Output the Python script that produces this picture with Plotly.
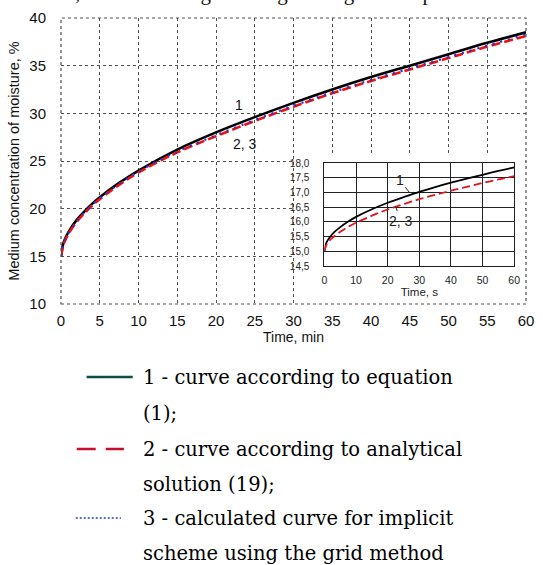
import plotly.graph_objects as go

# ---------------- data ----------------
t_min = [0, 0.25, 0.5, 1, 2, 3, 4, 5, 7.5, 10, 15, 20, 25, 30, 35, 40, 45, 50, 55, 60]
curve1_main = [15.0, 16.2, 16.8, 17.6, 18.8, 19.7, 20.5, 21.2, 22.7, 24.0, 26.2, 28.0, 29.6, 31.1, 32.5, 33.8, 35.0, 36.2, 37.4, 38.5]
curve2_main = [15.0, 16.0, 16.6, 17.4, 18.6, 19.5, 20.3, 21.0, 22.5, 23.8, 25.9, 27.6, 29.2, 30.7, 32.1, 33.4, 34.6, 35.8, 37.0, 38.1]
curve3_main = [15.0, 16.1, 16.7, 17.5, 18.7, 19.6, 20.4, 21.1, 22.6, 23.9, 26.0, 27.7, 29.3, 30.8, 32.2, 33.5, 34.7, 35.9, 37.1, 38.3]

t_sec = [0, 0.5, 1, 2, 3, 5, 7.5, 10, 15, 20, 25, 30, 35, 40, 45, 50, 55, 60]
curve1_inset = [15.0, 15.26, 15.37, 15.52, 15.64, 15.82, 16.01, 16.17, 16.43, 16.65, 16.84, 17.02, 17.18, 17.33, 17.47, 17.60, 17.73, 17.85]
curve2_inset = [15.0, 15.19, 15.28, 15.41, 15.50, 15.66, 15.83, 15.97, 16.21, 16.42, 16.60, 16.77, 16.92, 17.06, 17.19, 17.32, 17.44, 17.55]
curve3_inset = [15.0, 15.19, 15.28, 15.41, 15.50, 15.66, 15.83, 15.97, 16.21, 16.42, 16.60, 16.77, 16.92, 17.06, 17.19, 17.32, 17.44, 17.55]

main_x_ticks = [0, 5, 10, 15, 20, 25, 30, 35, 40, 45, 50, 55, 60]
main_y_ticks = [10, 15, 20, 25, 30, 35, 40]
inset_x_ticks = [0, 10, 20, 30, 40, 50, 60]
inset_y_ticks = [14.5, 15.0, 15.5, 16.0, 16.5, 17.0, 17.5, 18.0]
inset_y_labels = ["14,5", "15,0", "15,5", "16,0", "16,5", "17,0", "17,5", "18,0"]

legend_lines = [
    ["1 - curve according to equation", "(1);"],
    ["2 - curve according to analytical", "solution (19);"],
    ["3 - calculated curve for implicit", "scheme using the grid method"],
]

# ---------------- geometry helpers ----------------
W, H = 543, 565
L, R, T, B = 61, 534, 18, 304
PW, PH = R - L, B - T


def px(x):
    return (x - L) / PW


def py(y):
    return (B - y) / PH


SANS = "Liberation Sans, Arial, sans-serif"
SERIF = "DejaVu Serif, serif"
SERIF2 = "Liberation Serif, Times New Roman, serif"

fig = go.Figure()

# main curves
fig.add_trace(go.Scatter(x=t_min, y=curve1_main, mode="lines", line=dict(color="black", width=2.6, shape="spline"),
                         xaxis="x", yaxis="y", showlegend=False, hoverinfo="skip"))
fig.add_trace(go.Scatter(x=t_min, y=curve2_main, mode="lines", line=dict(color="#ee1111", width=2.6, dash="9px,4px", shape="spline"),
                         xaxis="x", yaxis="y", showlegend=False, hoverinfo="skip"))
fig.add_trace(go.Scatter(x=t_min, y=curve3_main, mode="lines", line=dict(color="#2233dd", width=2.2, dash="2px,6px", shape="spline"),
                         xaxis="x", yaxis="y", showlegend=False, hoverinfo="skip"))

# white box subplot (empty)
fig.add_trace(go.Scatter(x=[None], y=[None], mode="lines", xaxis="x2", yaxis="y2", showlegend=False, hoverinfo="skip"))

# inset curves
fig.add_trace(go.Scatter(x=t_sec, y=curve1_inset, mode="lines", line=dict(color="black", width=1.8, shape="spline"),
                         xaxis="x3", yaxis="y3", showlegend=False, hoverinfo="skip"))
fig.add_trace(go.Scatter(x=t_sec, y=curve2_inset, mode="lines", line=dict(color="#ee1111", width=1.8, dash="8px,4px", shape="spline"),
                         xaxis="x3", yaxis="y3", showlegend=False, hoverinfo="skip"))
fig.add_trace(go.Scatter(x=t_sec, y=curve3_inset, mode="lines", line=dict(color="#3344ee", width=1.2, dash="1px,11px", shape="spline"),
                         xaxis="x3", yaxis="y3", showlegend=False, hoverinfo="skip"))

grid_col = "#505050"

fig.update_layout(
    width=W, height=H,
    margin=dict(l=L, r=W - R, t=T, b=H - B, pad=0),
    paper_bgcolor="white", plot_bgcolor="white",
    xaxis=dict(domain=[0, 1], range=[0, 60], tickvals=main_x_ticks, showgrid=True, gridcolor=grid_col,
               griddash="dot", gridwidth=1.2, zeroline=False, showline=False, ticks="",
               ticklabelstandoff=6, tickfont=dict(family=SANS, size=15, color="#111"),
               title=dict(text="Time, min", font=dict(family=SANS, size=14, color="#111"), standoff=4),
               anchor="y"),
    yaxis=dict(domain=[0, 1], range=[10, 40], tickvals=main_y_ticks, showgrid=True, gridcolor=grid_col,
               griddash="dot", gridwidth=1.2, zeroline=False, showline=False, ticks="",
               ticklabelstandoff=14, tickfont=dict(family=SANS, size=15, color="#111"),
               title=dict(text="Medium concentration of moisture, %", font=dict(family=SANS, size=14.5, color="#111"),
                          standoff=6),
               anchor="x"),
    xaxis2=dict(domain=[px(298), px(533)], range=[0, 1], visible=False, anchor="y2"),
    yaxis2=dict(domain=[py(303), py(155)], range=[0, 1], visible=False, anchor="x2"),
    xaxis3=dict(domain=[px(329), px(522)], range=[0, 60], tickvals=inset_x_ticks, showgrid=True,
                gridcolor="#222", gridwidth=1.3, zeroline=False, showline=True, linecolor="#222", linewidth=1.3,
                mirror=True, ticks="", ticklabelstandoff=4, tickfont=dict(family=SANS, size=10.5, color="#222"),
                title=dict(text="Time, s", font=dict(family=SANS, size=11.5, color="#222"), standoff=2),
                anchor="y3"),
    yaxis3=dict(domain=[py(266), py(163)], range=[14.5, 18.0], tickvals=inset_y_ticks, ticktext=inset_y_labels,
                showgrid=True, gridcolor="#222", gridwidth=1.3, zeroline=False, showline=True, linecolor="#222",
                linewidth=1.3, mirror=True, ticks="", ticklabelstandoff=12,
                tickfont=dict(family=SANS, size=10, color="#222"), anchor="x3"),
)

shapes = [
    # white box behind the inset (drawn in the x2y2 subplot, above main grid)
    dict(type="rect", xref="x2", yref="y2", x0=0, x1=1, y0=0, y1=1, fillcolor="white",
         line=dict(width=0), layer="below"),
    # dotted frame of the main plot
    dict(type="rect", xref="paper", yref="paper", x0=0, x1=1, y0=0, y1=1,
         line=dict(color=grid_col, width=1.2, dash="dot"), layer="above"),
    # legend keys
    dict(type="line", xref="paper", yref="paper", x0=px(87), x1=px(134), y0=py(377), y1=py(377),
         line=dict(color="#0f4f45", width=2.6)),
    dict(type="line", xref="paper", yref="paper", x0=px(77), x1=px(125), y0=py(449), y1=py(449),
         line=dict(color="#c4102e", width=2.6, dash="19px,10px")),
    dict(type="line", xref="paper", yref="paper", x0=px(76), x1=px(122), y0=py(518), y1=py(518),
         line=dict(color="#2a3be0", width=1.4, dash="2px,2px")),
]
fig.update_layout(shapes=shapes)

annotations = [
    # curve labels in the main plot
    dict(x=23.0, y=30.9, xref="x", yref="y", text="1", showarrow=False,
         font=dict(family=SANS, size=14, color="#111")),
    dict(x=23.8, y=26.8, xref="x", yref="y", text="2, 3", showarrow=False,
         font=dict(family=SANS, size=14, color="#111")),
    # curve labels in the inset
    dict(x=27, y=16.98, xref="x3", yref="y3", text="1", showarrow=True, arrowhead=0, arrowwidth=1,
         arrowcolor="#222", ax=-10, ay=-13, font=dict(family=SANS, size=14, color="#222")),
    dict(x=22.5, y=16.52, xref="x3", yref="y3", text="2, 3", showarrow=True, arrowhead=0, arrowwidth=1,
         arrowcolor="#222", ax=5, ay=14, font=dict(family=SANS, size=14, color="#222")),
    # cut-off line of text above the chart
    dict(x=px(30), y=py(-7), xref="paper", yref="paper", xanchor="left", yanchor="middle",
         text="ation, while allowing to change a range of the parameters", showarrow=False,
         font=dict(family=SERIF2, size=21, color="#111")),
]

rows_y = [(377, 413), (449, 484), (518, 553)]
for lines, ys in zip(legend_lines, rows_y):
    for txt, yy in zip(lines, ys):
        annotations.append(dict(x=px(142), y=py(yy), xref="paper", yref="paper", xanchor="left",
                                yanchor="middle", text=txt, showarrow=False,
                                font=dict(family=SERIF, size=19.5, color="black")))

fig.update_layout(annotations=annotations)

fig.write_html("out.html", config={"displayModeBar": False},
               post_script="document.body.style.margin='0';document.body.style.overflow='hidden';")
